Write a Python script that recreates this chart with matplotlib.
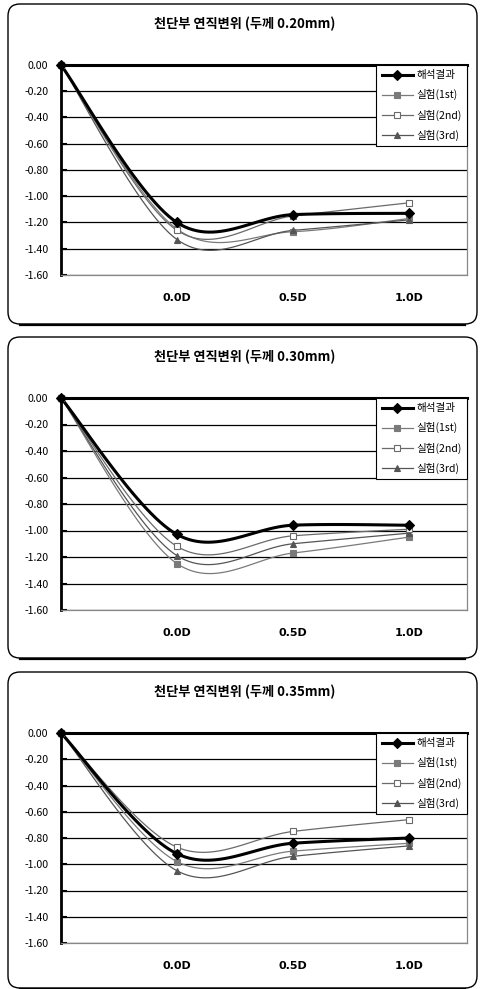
import numpy as np
import matplotlib
matplotlib.use("Agg")
import matplotlib.pyplot as plt
from matplotlib.lines import Line2D
from matplotlib.patches import FancyBboxPatch
from matplotlib.transforms import IdentityTransform

plt.rcParams['font.family'] = ['Noto Sans CJK KR', 'DejaVu Sans']
plt.rcParams['axes.unicode_minus'] = False

# stations: start of the crown, then 0.0D / 0.5D / 1.0D
x_pos = [-1, 0, 1, 2]
x_ticks = [0, 1, 2]
x_labels = ['0.0D', '0.5D', '1.0D']
y_ticks = [0.0, -0.2, -0.4, -0.6, -0.8, -1.0, -1.2, -1.4, -1.6]

titles = ['천단부 연직변위 (두께 0.20mm)',
          '천단부 연직변위 (두께 0.30mm)',
          '천단부 연직변위 (두께 0.35mm)']
series_names = ['해석결과', '실험(1st)', '실험(2nd)', '실험(3rd)']

# vertical displacement at each station, one list per thickness
analysis = [[0.0, -1.20, -1.14, -1.13],
            [0.0, -1.03, -0.96, -0.96],
            [0.0, -0.92, -0.84, -0.80]]
test_1st = [[0.0, -1.25, -1.27, -1.17],
            [0.0, -1.25, -1.17, -1.05],
            [0.0, -0.98, -0.90, -0.84]]
test_2nd = [[0.0, -1.26, -1.15, -1.05],
            [0.0, -1.12, -1.04, -0.99],
            [0.0, -0.87, -0.75, -0.66]]
test_3rd = [[0.0, -1.33, -1.26, -1.18],
            [0.0, -1.19, -1.10, -1.02],
            [0.0, -1.05, -0.94, -0.86]]

W, H = 481, 989
# axes box (left, right, top, bottom) and panel frame (top, bottom) in pixels
axes_px = [(61, 467, 65, 275), (61, 467, 398, 610), (61, 467, 733, 943)]
frame_px = [(4, 324), (337, 658), (672, 988)]
title_y = [24, 357, 692]

styles = [
    dict(color='black', lw=2.2, marker='D', ms=5.5, mfc='black', mec='black'),
    dict(color='#7a7a7a', lw=0.9, marker='s', ms=4.5, mfc='#7a7a7a', mec='#7a7a7a'),
    dict(color='#6a6a6a', lw=0.9, marker='s', ms=4.5, mfc='white', mec='#6a6a6a'),
    dict(color='#555555', lw=0.9, marker='^', ms=5, mfc='#555555', mec='#555555'),
]


def smooth(xs, ys, n=30):
    # excel-style smoothed line: cubic bezier with catmull-rom control points
    p = np.column_stack([xs, ys]).astype(float)
    pts = [p[0]]
    for i in range(len(p) - 1):
        p0 = p[i - 1] if i > 0 else p[i]
        p1, p2 = p[i], p[i + 1]
        p3 = p[i + 2] if i + 2 < len(p) else p[i + 1]
        c1 = p1 + (p2 - p0) / 6
        c2 = p2 - (p3 - p1) / 6
        t = np.linspace(0, 1, n)[1:, None]
        seg = ((1 - t) ** 3 * p1 + 3 * (1 - t) ** 2 * t * c1
               + 3 * (1 - t) * t ** 2 * c2 + t ** 3 * p2)
        pts.extend(seg)
    pts = np.array(pts)
    return pts[:, 0], pts[:, 1]


fig = plt.figure(figsize=(W / 100, H / 100), dpi=100)
fig.patch.set_facecolor('white')

for k in range(3):
    top, bot = frame_px[k]
    box = FancyBboxPatch((8, H - bot), 469, bot - top,
                         boxstyle='round,pad=0,rounding_size=12',
                         fc='none', ec='black', lw=1.0,
                         transform=IdentityTransform())
    fig.add_artist(box)
    fig.add_artist(Line2D([20, 465], [H - bot - 0.5, H - bot - 0.5], color='black',
                          lw=1.6, transform=IdentityTransform()))

    l, r, t, b = axes_px[k]
    ax = fig.add_axes([l / W, 1 - b / H, (r - l) / W, (b - t) / H])
    ax.set_xlim(-1, 2.5)
    ax.set_ylim(-1.6, 0)

    data = [analysis[k], test_1st[k], test_2nd[k], test_3rd[k]]
    order = [1, 3, 2, 0]
    for i in order:
        st = styles[i]
        sx, sy = smooth(x_pos, data[i])
        ax.plot(sx, sy, color=st['color'], lw=st['lw'], zorder=3 + (i == 0),
                clip_on=False)
        ax.plot(x_pos, data[i], ls='none', marker=st['marker'], ms=st['ms'],
                mfc=st['mfc'], mec=st['mec'], mew=0.8, zorder=5 + (i == 0),
                clip_on=False)

    ax.set_yticks(y_ticks)
    ax.set_yticklabels(['%.2f' % v for v in y_ticks], fontsize=7.6)
    ax.tick_params(axis='y', direction='in', length=4, width=1.5, pad=9)
    ax.set_xticks([])
    for xv, lab in zip(x_ticks, x_labels):
        ax.text(xv, -0.11, lab, transform=ax.get_xaxis_transform(),
                ha='center', va='center', fontsize=8, fontweight='bold',
                family='DejaVu Sans')

    ax.grid(axis='y', color='black', lw=0.9)
    ax.set_axisbelow(True)
    ax.spines['left'].set_linewidth(2.0)
    ax.spines['top'].set_linewidth(2.2)
    ax.spines['left'].set_color('black')
    ax.spines['top'].set_color('black')
    ax.spines['right'].set_color('#888888')
    ax.spines['bottom'].set_color('#888888')
    ax.spines['right'].set_linewidth(0.9)
    ax.spines['bottom'].set_linewidth(0.9)

    handles = [Line2D([], [], color=s['color'], lw=s['lw'], marker=s['marker'],
                      ms=s['ms'], mfc=s['mfc'], mec=s['mec'], mew=0.8)
               for s in styles]
    leg = ax.legend(handles, series_names, loc='upper right',
                    bbox_to_anchor=(1, 1), borderaxespad=0, fontsize=7.6,
                    fancybox=False, edgecolor='black', framealpha=1,
                    handlelength=3.0, handletextpad=0.3, labelspacing=0.85,
                    borderpad=0.5)
    leg.get_frame().set_linewidth(0.8)
    leg.set_zorder(10)

    fig.text(245 / W, 1 - title_y[k] / H, titles[k], ha='center', va='center',
             fontsize=9.5, fontweight='bold')

fig.savefig('out.png', dpi=100)
